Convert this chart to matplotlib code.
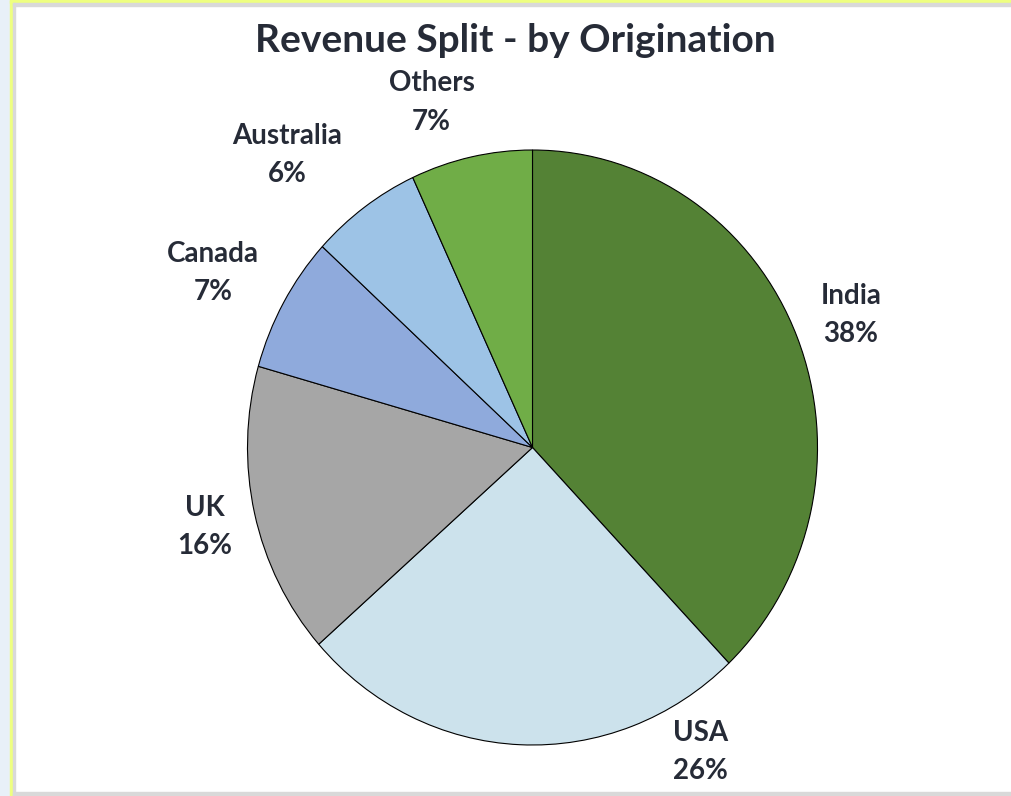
import matplotlib.pyplot as plt
from matplotlib.patches import Rectangle

# data (shares, labels show the rounded value)
countries = ['India', 'USA', 'UK', 'Canada', 'Australia', 'Others']
shares = [37.9, 25.6, 15.9, 7.4, 6.3, 6.9]
colors = ['#548235', '#CCE2EC', '#A6A6A6', '#8FAADC', '#9DC3E6', '#70AD47']

# label centres (data coords of the pie axes), Excel "best fit" style
label_xy = [(1.118, 0.445), (0.589, -1.024), (-1.149, -0.267),
            (-1.121, 0.587), (-0.861, 0.983), (-0.354, 1.160)]

plt.rcParams['font.family'] = ['Lato', 'DejaVu Sans']
text_color = '#262B37'

W, H = 1012, 796
fig = plt.figure(figsize=(W / 100, H / 100), dpi=100)
fig.patch.set_facecolor('white')

# frame decoration round the chart
def px_rect(x0, y0, x1, y1, color):
    fig.patches.append(Rectangle((x0 / W, 1 - y1 / H), (x1 - x0) / W, (y1 - y0) / H,
                                 transform=fig.transFigure, color=color, zorder=0))

px_rect(0, 0, 10, H, '#E8F0F8')
px_rect(10, 0, 13, H, '#EEFF80')
px_rect(10, 0, W, 3, '#EEFF80')
px_rect(13, 3, 15, H, '#D9D9D9')
px_rect(13, 3, W, 6, '#D9D9D9')
px_rect(13, 792, W, H, '#D9D9D9')

# pie (slightly elliptical like the original)
cx, cy, rx, ry = 532.5, 447.5, 285, 297.5
ax = fig.add_axes([(cx - rx) / W, (H - cy - ry) / H, 2 * rx / W, 2 * ry / H])
ax.pie(shares, colors=colors, startangle=90, counterclock=False,
       wedgeprops=dict(edgecolor='black', linewidth=0.8))
ax.set_aspect('auto')
ax.set_xlim(-1, 1)
ax.set_ylim(-1, 1)
ax.axis('off')

for name, val, (lx, ly) in zip(countries, shares, label_xy):
    ax.text(lx, ly, f'{name}\n{round(val)}%', ha='center', va='center', fontsize=20,
            fontweight='bold', color=text_color, linespacing=1.6, clip_on=False)

fig.text(515 / W, 1 - 40 / H, 'Revenue Split - by Origination', ha='center', va='center',
         fontsize=28, fontweight='bold', color=text_color)

fig.savefig('out.png', dpi=100)
